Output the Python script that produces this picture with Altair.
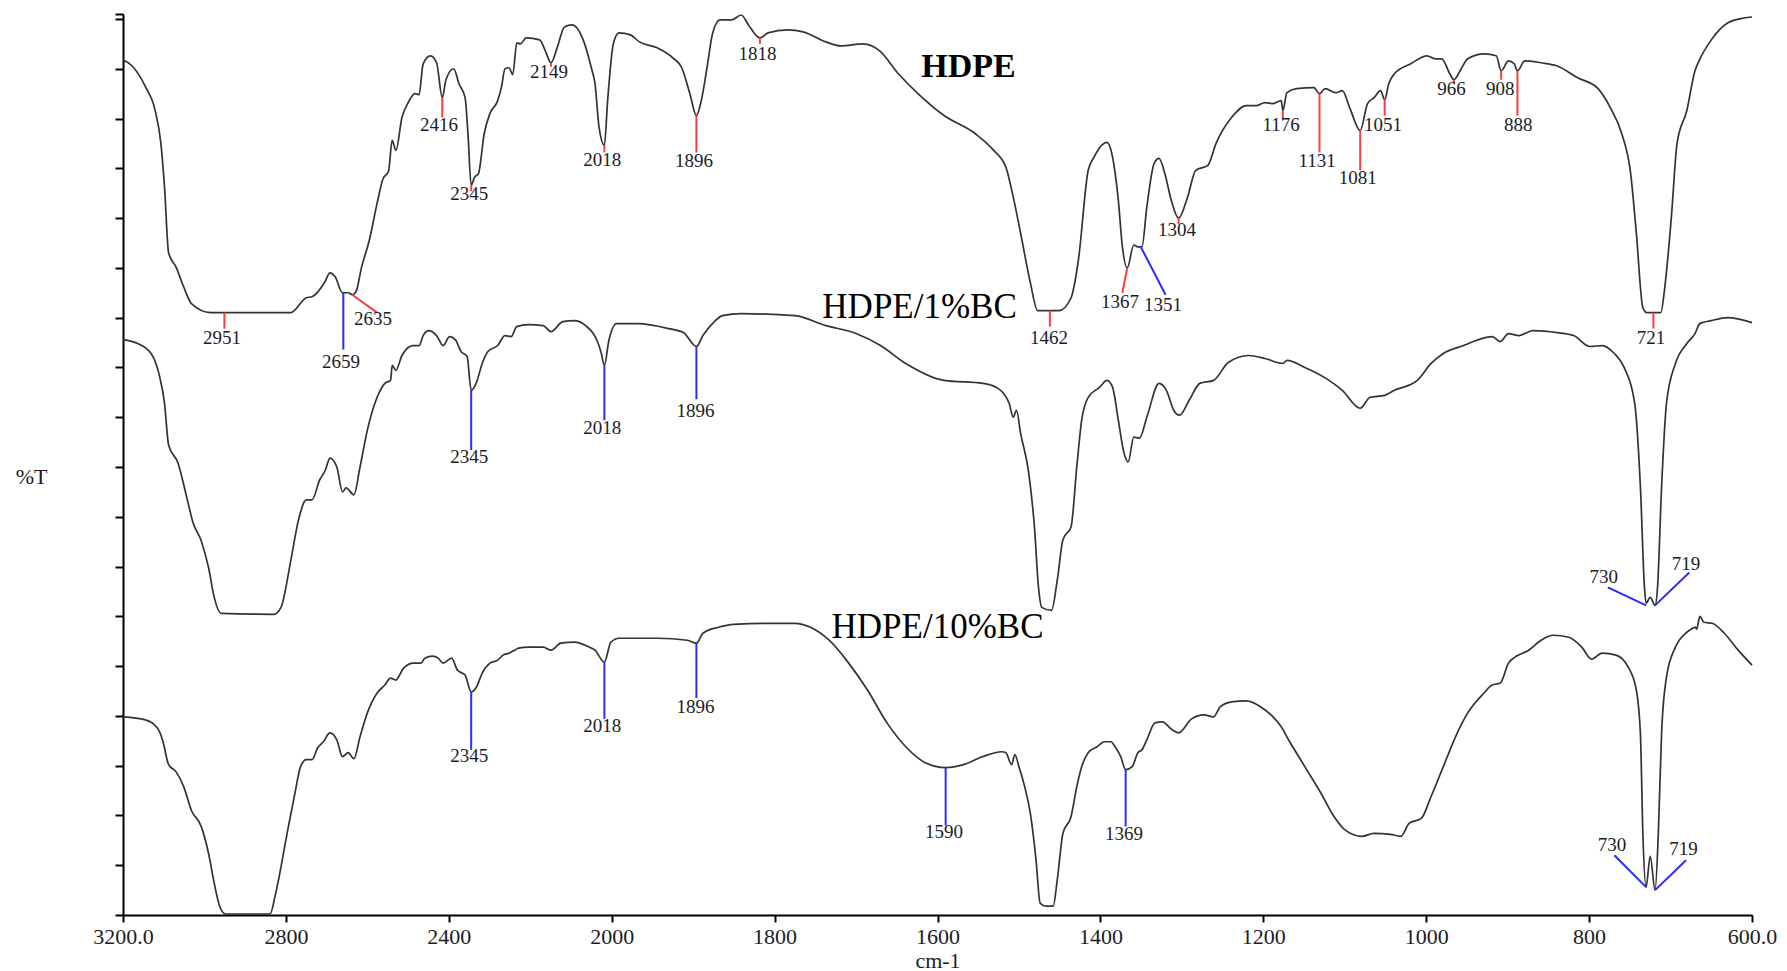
import altair as alt
import pandas as pd

FONT = "Liberation Serif"
RED = "#ff3b3b"
BLUE = "#2b2bff"
INK = "#1c1c28"

# ---- spectra: (wavenumber cm-1, %T reading) ----
hdpe = [(3200,85.9),(3178,85.3),(3145,83.2),(3121,80.8),(3107,77.5),(3098,73.1),(3088,66.5),(3070,65.1),(3051,63.1),(3032,61.4),(2985,60.5),(2788,60.5),(2750,62.0),(2736,62.1),(2704,63.6),(2692,64.5),(2679,64.1),(2661,62.5),(2647,62.5),(2637,62.3),(2628,62.6),(2614,65.1),(2595,67.8),(2576,71.5),(2562,73.9),(2548,74.7),(2539,77.8),(2530,76.8),(2515,80.1),(2501,81.5),(2483,82.5),(2473,82.4),(2463,85.5),(2445,86.3),(2430,85.6),(2416,82.1),(2407,83.9),(2388,85.0),(2375,83.5),(2360,82.1),(2353,78.5),(2345,73.3),(2337,74.1),(2327,74.5),(2313,78.5),(2299,80.5),(2280,81.8),(2271,83.1),(2262,85.0),(2252,85.1),(2243,84.4),(2233,87.6),(2224,87.5),(2210,88.1),(2177,87.9),(2163,86.8),(2149,85.6),(2134,87.1),(2116,89.2),(2097,89.4),(2073,88.2),(2050,85.1),(2041,83.5),(2031,79.1),(2018,77.3),(2010,81.8),(1998,87.5),(1991,88.6),(1977,88.4),(1966,87.7),(1944,87.1),(1925,86.1),(1914,85.1),(1904,82.5),(1896,80.3),(1890,81.8),(1883,85.1),(1876,88.6),(1867,89.9),(1853,89.9),(1841,90.4),(1832,89.4),(1818,88.1),(1808,88.6),(1784,88.9),(1765,88.7),(1737,87.7),(1719,87.3),(1691,87.5),(1671,86.8),(1648,84.5),(1624,82.5),(1592,80.3),(1554,78.5),(1531,76.8),(1516,75.1),(1507,72.1),(1498,68.5),(1486,63.5),(1477,60.7),(1451,60.7),(1436,62.0),(1427,65.8),(1415,74.8),(1408,76.1),(1392,77.6),(1385,76.1),(1378,71.8),(1373,67.1),(1367,65.0),(1359,67.3),(1354,67.1),(1349,67.1),(1343,71.1),(1334,75.5),(1328,76.0),(1321,74.5),(1313,71.8),(1304,70.0),(1293,72.1),(1283,74.8),(1268,75.3),(1258,77.5),(1239,80.1),(1221,81.3),(1208,81.3),(1198,81.6),(1188,81.5),(1178,81.8),(1176,80.8),(1171,82.6),(1159,83.0),(1138,83.1),(1131,82.5),(1124,83.0),(1111,82.6),(1103,82.8),(1094,81.1),(1081,78.8),(1072,81.5),(1064,82.1),(1056,82.8),(1051,81.9),(1046,83.5),(1039,84.5),(1019,85.5),(999,86.3),(989,86.0),(981,86.0),(971,84.5),(966,83.9),(957,85.0),(949,86.0),(929,86.5),(914,86.3),(908,84.8),(899,85.8),(892,85.5),(888,84.8),(879,85.8),(859,85.6),(840,85.3),(814,84.1),(789,83.0),(774,81.1),(760,78.5),(749,74.5),(742,68.5),(734,61.0),(729,60.5),(712,60.5),(707,63.1),(699,70.1),(692,77.5),(680,80.8),(670,84.8),(665,85.8),(650,87.9),(630,89.6),(610,90.1),(600,90.2)]

bc1 = [(3200,57.8),(3164,57.4),(3131,56.4),(3112,54.4),(3098,51.4),(3088,47.2),(3065,45.4),(3042,41.7),(3028,39.4),(3008,37.6),(2990,34.9),(2976,31.9),(2959,30.3),(2830,30.2),(2812,30.9),(2788,35.6),(2769,39.7),(2750,41.7),(2736,41.7),(2717,43.7),(2703,44.7),(2692,45.9),(2675,45.0),(2661,42.5),(2652,42.9),(2633,42.2),(2618,45.0),(2600,48.7),(2576,52.0),(2557,53.4),(2543,53.7),(2539,55.2),(2530,54.7),(2515,56.2),(2488,57.2),(2473,57.2),(2463,58.2),(2449,58.7),(2430,58.2),(2414,57.2),(2398,58.1),(2384,57.8),(2370,56.6),(2355,56.1),(2345,52.7),(2332,53.5),(2318,55.4),(2304,56.6),(2280,57.2),(2262,58.2),(2247,58.1),(2233,59.1),(2205,59.3),(2168,59.2),(2149,58.6),(2120,59.6),(2092,59.7),(2064,59.2),(2036,57.7),(2026,56.5),(2018,55.2),(2007,57.7),(1994,59.4),(1968,59.4),(1930,58.9),(1912,58.5),(1896,57.1),(1888,58.2),(1874,59.6),(1864,60.2),(1841,60.4),(1775,60.2),(1737,59.2),(1700,58.4),(1670,57.2),(1639,55.4),(1592,53.7),(1544,53.4),(1528,53.0),(1519,52.4),(1512,51.4),(1507,50.0),(1503,50.7),(1498,48.4),(1488,44.4),(1481,39.0),(1476,32.9),(1472,30.9),(1460,30.6),(1453,33.6),(1446,37.7),(1436,39.0),(1429,45.0),(1423,49.7),(1415,52.0),(1401,53.0),(1392,53.7),(1385,53.0),(1378,49.7),(1371,46.4),(1366,45.5),(1359,48.0),(1352,47.9),(1343,50.0),(1328,53.4),(1319,52.7),(1310,50.7),(1303,50.2),(1291,51.7),(1278,53.4),(1261,53.7),(1243,55.5),(1218,56.2),(1198,55.9),(1176,55.4),(1171,55.7),(1149,55.0),(1123,53.9),(1103,52.7),(1081,50.9),(1069,52.0),(1051,52.2),(1039,52.7),(1011,53.7),(994,55.4),(979,56.4),(954,57.2),(939,57.7),(919,58.1),(909,57.6),(899,58.4),(886,58.2),(869,58.7),(839,58.5),(819,58.2),(799,57.1),(784,57.2),(769,56.4),(757,55.0),(744,51.4),(737,43.0),(732,32.9),(730,31.3),(725,31.9),(719,31.1),(716,32.9),(711,43.0),(705,51.4),(694,55.4),(680,57.4),(670,58.4),(664,59.4),(650,59.7),(630,60.0),(600,59.5)]

bc10 = [(3200,19.9),(3145,19.6),(3116,18.8),(3103,17.6),(3088,15.1),(3070,14.4),(3051,12.9),(3032,10.5),(3008,8.9),(2990,6.2),(2976,3.2),(2962,0.8),(2948,0.1),(2839,0.1),(2825,2.2),(2797,8.2),(2778,12.2),(2764,14.9),(2750,15.6),(2736,15.6),(2722,16.8),(2708,17.4),(2692,18.3),(2675,17.6),(2661,15.9),(2647,16.3),(2633,15.7),(2618,17.9),(2600,20.3),(2576,22.3),(2557,23.1),(2543,23.8),(2530,23.6),(2511,24.8),(2487,25.3),(2468,25.3),(2459,25.8),(2440,26.0),(2426,25.8),(2414,25.3),(2393,25.8),(2379,24.6),(2360,24.1),(2345,22.4),(2332,22.9),(2318,24.3),(2299,25.3),(2280,25.6),(2267,26.1),(2252,26.3),(2238,26.6),(2229,26.8),(2205,26.9),(2168,26.9),(2149,26.6),(2125,27.3),(2092,27.4),(2055,26.9),(2041,26.6),(2018,25.4),(2002,27.4),(1991,27.8),(1944,27.8),(1907,27.6),(1896,27.3),(1888,28.3),(1869,28.9),(1850,29.2),(1804,29.3),(1775,29.3),(1756,28.9),(1733,27.6),(1709,25.3),(1686,22.6),(1662,19.3),(1639,16.9),(1615,15.3),(1590,14.8),(1568,15.1),(1545,15.9),(1521,16.4),(1516,16.3),(1509,15.1),(1505,16.1),(1500,14.9),(1493,12.9),(1486,10.2),(1479,5.5),(1474,1.2),(1467,0.9),(1458,0.9),(1453,3.5),(1446,8.2),(1436,9.9),(1429,12.9),(1423,14.9),(1415,16.3),(1404,16.9),(1395,17.4),(1387,17.4),(1382,16.9),(1375,15.9),(1369,14.6),(1361,14.9),(1354,16.3),(1349,16.6),(1343,17.6),(1333,19.3),(1324,19.4),(1312,18.6),(1304,18.3),(1288,19.7),(1273,20.1),(1261,19.9),(1253,20.9),(1239,21.4),(1221,21.5),(1203,20.9),(1188,19.9),(1178,18.9),(1169,17.6),(1149,14.9),(1129,12.2),(1114,10.0),(1099,8.5),(1079,7.9),(1064,8.2),(1044,8.1),(1031,7.9),(1021,9.2),(1006,9.7),(994,11.9),(979,14.9),(964,17.9),(949,20.3),(929,22.3),(919,23.1),(909,23.3),(899,25.3),(891,25.9),(874,26.6),(859,27.6),(844,28.1),(825,27.9),(809,26.9),(797,25.7),(784,26.3),(767,26.1),(752,24.9),(742,22.6),(737,18.2),(734,8.2),(730,2.8),(725,5.9),(719,2.5),(715,8.2),(711,18.3),(705,23.9),(694,26.9),(680,28.4),(669,28.9),(668,28.7),(664,30.0),(659,29.4),(649,29.3),(634,28.3),(617,26.6),(600,25.1)]

# ---- peak marker lines: (wn1, T1, wn2, T2, colour) ----
markers = [
    (2951, 60.5, 2951, 58.9, RED), (2659, 62.5, 2659, 56.8, BLUE), (2637, 62.3, 2576, 60.5, RED),
    (2416, 82.1, 2416, 80.1, RED), (2345, 73.3, 2345, 72.7, RED), (2149, 85.6, 2149, 85.2, RED),
    (2018, 77.3, 2018, 76.6, RED), (1896, 80.3, 1896, 76.6, RED), (1818, 88.1, 1818, 87.5, RED),
    (1462, 60.7, 1462, 59.1, RED), (1367, 65.0, 1373, 62.5, RED), (1351, 67.2, 1320, 62.3, BLUE),
    (1304, 70.0, 1304, 69.4, RED), (1176, 80.8, 1176, 80.0, RED), (1131, 82.5, 1131, 76.6, RED),
    (1081, 78.8, 1081, 74.8, RED), (1051, 81.9, 1051, 80.3, RED), (966, 83.9, 966, 83.5, RED),
    (908, 84.8, 908, 83.9, RED), (888, 84.8, 888, 80.3, RED), (721, 60.5, 721, 58.9, RED),
    (2345, 52.7, 2345, 46.7, BLUE), (2018, 55.2, 2018, 49.7, BLUE), (1896, 57.1, 1896, 51.8, BLUE),
    (730, 31.1, 777, 32.9, BLUE), (719, 31.1, 677, 34.4, BLUE),
    (2345, 22.4, 2345, 16.6, BLUE), (2018, 25.4, 2018, 19.7, BLUE), (1896, 27.3, 1896, 21.8, BLUE),
    (1590, 14.8, 1590, 9.0, BLUE), (1369, 14.6, 1369, 8.9, BLUE),
    (730, 2.8, 769, 6.0, BLUE), (719, 2.5, 681, 5.5, BLUE),
]

# ---- peak labels: (text, wn, T) ----
peak_labels = [
    ("2951", 2957, 58.0), ("2659", 2665, 55.5), ("2635", 2586, 59.9), ("2416", 2424, 79.4),
    ("2345", 2350, 72.4), ("2149", 2154, 84.7), ("2018", 2023, 75.8), ("1896", 1899, 75.7),
    ("1818", 1821, 86.5), ("1462", 1463, 58.0), ("1367", 1376, 61.6), ("1351", 1323, 61.3),
    ("1304", 1306, 68.8), ("1176", 1178, 79.4), ("1131", 1134, 75.7), ("1081", 1084, 74.0),
    ("1051", 1053, 79.4), ("966", 969, 83.0), ("908", 909, 83.0), ("888", 887, 79.4),
    ("721", 724, 58.0),
    ("2345", 2350, 46.0), ("2018", 2023, 48.9), ("1896", 1897, 50.6), ("730", 782, 33.9), ("719", 681, 35.3),
    ("2345", 2350, 16.0), ("2018", 2023, 19.0), ("1896", 1897, 20.9), ("1590", 1592, 8.3),
    ("1369", 1371, 8.1), ("730", 772, 7.0), ("719", 684, 6.6),
]

series_bold = [("HDPE", 1562, 85.2)]
series_plain = [("HDPE/1%BC", 1622, 61.1), ("HDPE/10%BC", 1600, 28.9)]

x_ticks = [3200, 2800, 2400, 2000, 1800, 1600, 1400, 1200, 1000, 800, 600]
y_ticks = [0, 5, 10, 15, 20, 25, 30, 35, 40, 45, 50, 55, 60, 65, 70, 75, 80, 85, 90, 90.5]

# ---- tables ----
rows = []
for name, pts in (("HDPE", hdpe), ("HDPE/1%BC", bc1), ("HDPE/10%BC", bc10)):
    for i, (w, t) in enumerate(pts):
        rows.append({"series": name, "wn": w, "T": t, "i": i})
spec_df = pd.DataFrame(rows)
mark_df = pd.DataFrame(markers, columns=["w1", "t1", "w2", "t2", "c"])
lab_df = pd.DataFrame(peak_labels, columns=["text", "wn", "T"])
sb_df = pd.DataFrame(series_bold, columns=["text", "wn", "T"])
sp_df = pd.DataFrame(series_plain, columns=["text", "wn", "T"])

W, H = 1629, 901
xscale = alt.Scale(domain=[3200, 2000, 600], range=[0, W * 3 / 10, W], nice=False, zero=False)
yscale = alt.Scale(domain=[0, 90.5], nice=False, zero=False)

xaxis = alt.Axis(
    values=x_ticks, title="cm-1", grid=False,
    labelExpr="datum.value == 3200 ? '3200.0' : (datum.value == 600 ? '600.0' : '' + datum.value)",
    labelFont=FONT, labelFontSize=22, labelColor=INK, labelPadding=4, labelFlush=False,
    titleFont=FONT, titleFontSize=22, titleFontWeight="normal", titleColor=INK,
    titleBaseline="middle", titleY=45,
    domainColor="#000", domainWidth=2, tickColor="#000", tickWidth=2, tickSize=7,
)
yaxis = alt.Axis(
    values=y_ticks, labels=False, title="%T", grid=False,
    titleFont=FONT, titleFontSize=22, titleFontWeight="normal", titleColor=INK,
    titleAngle=0, titleAlign="center", titleBaseline="middle", titleX=-92, titleY=462,
    domainColor="#000", domainWidth=2, tickColor="#000", tickWidth=2, tickSize=8,
)

def X(f):
    return alt.X(f, type="quantitative", scale=xscale, axis=xaxis)

def Y(f):
    return alt.Y(f, type="quantitative", scale=yscale, axis=yaxis)

lines = alt.Chart(spec_df).mark_line(
    color="#333333", strokeWidth=1.7, interpolate="monotone"
).encode(x=X("wn"), y=Y("T"), detail="series:N", order="i:Q")
rules = alt.Chart(mark_df).mark_rule(strokeWidth=2).encode(
    x=X("w1"), y=Y("t1"), x2="w2", y2="t2", color=alt.Color("c:N", scale=None)
)
labels = alt.Chart(lab_df).mark_text(
    font=FONT, fontSize=19, color=INK, align="center", baseline="middle"
).encode(x=X("wn"), y=Y("T"), text="text:N")
sbold = alt.Chart(sb_df).mark_text(
    font=FONT, fontSize=34, fontWeight="bold", color="#000", align="center", baseline="middle"
).encode(x=X("wn"), y=Y("T"), text="text:N")
splain = alt.Chart(sp_df).mark_text(
    font=FONT, fontSize=35, color="#000", align="center", baseline="middle"
).encode(x=X("wn"), y=Y("T"), text="text:N")

chart = alt.layer(lines, rules, labels, sbold, splain).properties(
    width=W, height=H,
    autosize=alt.AutoSizeParams(type="none"),
    padding={"left": 123, "top": 14, "right": 35, "bottom": 56},
    background="white",
).configure_view(stroke=None)

chart.save("out.html", embed_options={"renderer": "svg", "actions": False})
